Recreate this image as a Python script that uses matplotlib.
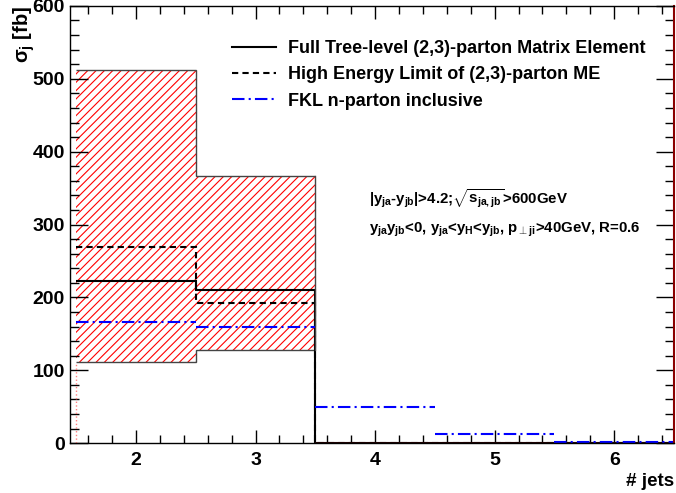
import matplotlib
matplotlib.use('Agg')
import matplotlib.pyplot as plt
from matplotlib.lines import Line2D
from matplotlib.ticker import MultipleLocator
import numpy as np

# bin edges and jet multiplicities
edges = [1.5, 2.5, 3.5, 4.5, 5.5, 6.5]
njets = [2, 3, 4, 5, 6]

# cross sections in fb
full_me = [223, 210, 0, 0, 0]
hel_me = [269, 193, 0, 0, 0]
fkl = [166, 160, 49, 12, 2]
band_up = [512, 366, 0, 0, 0]
band_lo = [112, 128, 0, 0, 0]

plt.rcParams['font.family'] = ['Liberation Sans', 'DejaVu Sans']
plt.rcParams['font.weight'] = 'bold'
plt.rcParams['mathtext.fontset'] = 'custom'
plt.rcParams['mathtext.rm'] = 'Liberation Sans:bold'
plt.rcParams['mathtext.it'] = 'Liberation Sans:bold'
plt.rcParams['mathtext.bf'] = 'Liberation Sans:bold'
plt.rcParams['hatch.linewidth'] = 0.8

fig = plt.figure(figsize=(6.76, 4.93), dpi=100)
ax = fig.add_axes([0.104, 0.101, 0.893, 0.887])

# uncertainty band (only first two bins are nonzero)
xs = np.array(edges[:3])
up = np.array(band_up[:2] + [band_up[1]])
lo = np.array(band_lo[:2] + [band_lo[1]])
ax.fill_between(xs, lo, up, step='post', facecolor='none', edgecolor='red',
                hatch='////', linewidth=0)
ax.stairs(band_up[:2], edges[:3], baseline=None, color='#444444', lw=1.0)
ax.stairs(band_lo[:2], edges[:3], baseline=None, color='#444444', lw=1.0)
ax.plot([3.5, 3.5], [band_lo[1], band_up[1]], color='#444444', lw=1.0)
ax.plot([1.5, 1.5], [0, band_lo[0]], color='#ff8080', lw=1.0, ls=':')
ax.plot([3.5, 6.5], [0, 0], color='#aa0000', lw=1.0)

# histograms
ax.stairs(full_me, edges, baseline=None, color='black', lw=1.5)
ax.stairs(hel_me, edges, baseline=None, color='black', lw=1.5,
          ls=(0, (3, 2)))
for i in range(len(njets)):
    ax.hlines(fkl[i], edges[i], edges[i + 1], color='blue', lw=1.5,
              linestyles=(0, (6, 2, 1, 2)))

ax.set_xlim(1.45, 6.5)
ax.set_ylim(0, 600)
ax.xaxis.set_major_locator(MultipleLocator(1))
ax.xaxis.set_minor_locator(MultipleLocator(0.2))
ax.yaxis.set_major_locator(MultipleLocator(100))
ax.yaxis.set_minor_locator(MultipleLocator(20))
ax.tick_params(which='both', direction='in', top=True, right=True,
               labelsize=14, width=1.0)
ax.tick_params(axis='y', which='major', length=13, pad=4)
ax.tick_params(axis='y', which='minor', length=6.5)
ax.tick_params(axis='x', which='major', length=9.5, pad=6)
ax.tick_params(axis='x', which='minor', length=5.5)
for lab in ax.get_xticklabels() + ax.get_yticklabels():
    lab.set_fontweight('bold')
for s in ax.spines.values():
    s.set_linewidth(1.0)
ax.spines['right'].set_color('#8b0000')
ax.spines['right'].set_linewidth(1.5)

ax.set_ylabel(r'$\sigma_j$ [fb]', fontsize=14.5, fontweight='bold', loc='top',
              labelpad=-3)
ax.set_xlabel('# jets', fontsize=13.5, fontweight='bold', loc='right', labelpad=3)

handles = [Line2D([], [], color='black', lw=1.5),
           Line2D([], [], color='black', lw=1.5, ls=(0, (3, 2))),
           Line2D([], [], color='blue', lw=1.5, ls=(0, (6, 2, 1, 2)))]
labels = ['Full Tree-level (2,3)-parton Matrix Element',
          'High Energy Limit of (2,3)-parton ME',
          'FKL n-parton inclusive']
ax.legend(handles, labels, loc='upper left', bbox_to_anchor=(0.2676, 0.921),
          frameon=False, handlelength=2.45, handletextpad=0.65,
          labelspacing=0.5, borderpad=0, borderaxespad=0,
          prop={'weight': 'bold', 'size': 13})

ax.text(0.495, 0.56, r'$|y_{ja}$-$y_{jb}|$>4.2;$\sqrt{s_{ja,jb}}$>600GeV',
        transform=ax.transAxes, fontsize=10.8, fontweight='bold', va='center')
ax.text(0.495, 0.487,
        r'$y_{ja}y_{jb}$<0, $y_{ja}$<$y_{H}$<$y_{jb}$, $p_{\bot ji}$>40GeV, R=0.6',
        transform=ax.transAxes, fontsize=10.8, fontweight='bold', va='center')

fig.savefig('out.png', dpi=100)
